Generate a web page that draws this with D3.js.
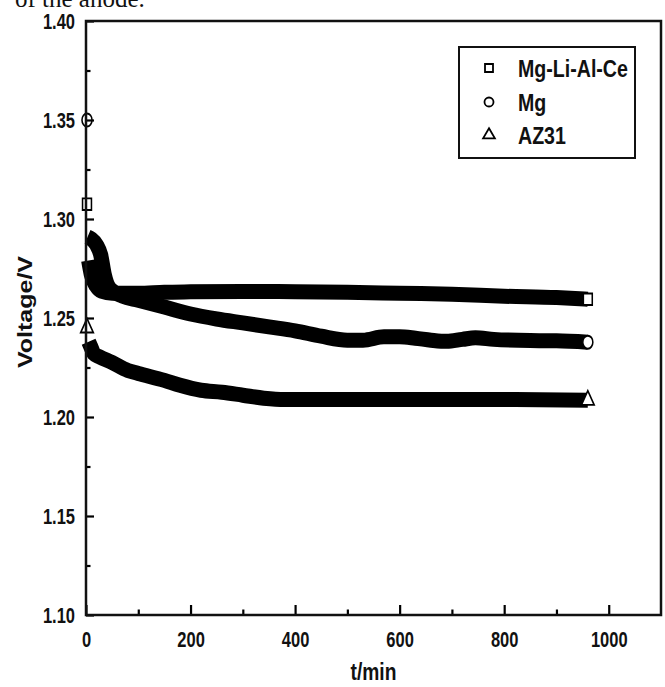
<!DOCTYPE html>
<html><head><meta charset="utf-8">
<script src="https://cdn.jsdelivr.net/npm/d3@7"></script>
<style>body{margin:0;background:#fff}svg{display:block}</style>
</head><body>
<script>
// ---- data ----
const seriesNames = ["Mg-Li-Al-Ce", "Mg", "AZ31"];
const tMgLiAlCe = [0, 5, 10, 20, 30, 50, 100, 150, 200, 300, 400, 500, 600, 700, 800, 900, 960];
const vMgLiAlCe = [1.3075, 1.279, 1.272, 1.266, 1.2635, 1.2625, 1.2625, 1.263, 1.2632, 1.2634, 1.2633, 1.263, 1.2625, 1.262, 1.261, 1.2603, 1.2595];
const tMg = [0, 3, 10, 20, 28, 35, 45, 70, 100, 150, 200, 250, 300, 350, 400, 450, 500, 530, 570, 600, 630, 660, 690, 720, 745, 780, 850, 900, 960];
const vMg = [1.35, 1.291, 1.290, 1.287, 1.282, 1.272, 1.265, 1.261, 1.259, 1.2555, 1.252, 1.2495, 1.2475, 1.2455, 1.2435, 1.2408, 1.2388, 1.2388, 1.2405, 1.2405, 1.2398, 1.2388, 1.2382, 1.2392, 1.2400, 1.2392, 1.2386, 1.2385, 1.2378];
const tAZ31 = [0, 5, 10, 15, 25, 50, 80, 100, 150, 180, 220, 260, 300, 340, 380, 450, 600, 800, 960];
const vAZ31 = [1.245, 1.238, 1.235, 1.232, 1.2305, 1.2275, 1.2235, 1.222, 1.2185, 1.216, 1.2135, 1.2125, 1.211, 1.2095, 1.2088, 1.2088, 1.2088, 1.2088, 1.2085];
const xMajorTicks = [0, 200, 400, 600, 800, 1000];
const xMinorTicks = [100, 300, 500, 700, 900];
const yMajorTicks = [1.10, 1.15, 1.20, 1.25, 1.30, 1.35, 1.40];
const yMinorTicks = [1.125, 1.175, 1.225, 1.275, 1.325, 1.375];
const xTitle = "t/min";
const yTitle = "Voltage/V";
const captionText = "of the anode.";

// ---- layout ----
const W = 665, H = 687;
const L = 86, R = 661, T = 21, B = 615;
const FONT = "'Liberation Sans', Arial, sans-serif";

const svg = d3.select("body").append("svg").attr("width", W).attr("height", H);

const x = d3.scaleLinear().domain([0, 1100]).range([L, R]);
const y = d3.scaleLinear().domain([1.10, 1.40]).range([B, T]);

// caption fragment at the very top (cut off, as in the reference)
svg.append("text").attr("x", 15).attr("y", 6.5)
  .attr("font-family", "'Liberation Serif', 'Times New Roman', serif")
  .attr("font-size", 25).attr("fill", "#111").text(captionText);

// ---- bands (dense overlapping markers) ----
const series = [
  {name: seriesNames[0], t: tMgLiAlCe, v: vMgLiAlCe, sym: d3.symbolSquare},
  {name: seriesNames[1], t: tMg, v: vMg, sym: d3.symbolCircle},
  {name: seriesNames[2], t: tAZ31, v: vAZ31, sym: d3.symbolTriangle}
];
const line = d3.line().x(d => x(d[0])).y(d => y(d[1])).curve(d3.curveMonotoneX);
const gData = svg.append("g");
series.forEach(s => {
  const pts = s.t.map((t, i) => [t, s.v[i]]);
  gData.append("path").datum(pts.slice(1))
    .attr("d", line).attr("fill", "none").attr("stroke", "#000")
    .attr("stroke-width", 15).attr("stroke-linecap", "butt").attr("stroke-linejoin", "round");
  // isolated first marker and last marker
  [pts[0], pts[pts.length - 1]].forEach((p, k) => {
    gData.append("path")
      .attr("d", d3.symbol().type(s.sym).size(s.sym === d3.symbolTriangle ? 95 : 110)())
      .attr("transform", `translate(${x(p[0]) + (k === 0 ? 1 : 0)},${y(p[1])}) scale(0.85,1.1)`)
      .attr("fill", "#fff").attr("stroke", "#000").attr("stroke-width", 1.8);
  });
});

// ---- axes ----
function styleAxis(g) {
  g.selectAll(".domain").remove();
  g.selectAll(".tick line").attr("stroke", "#000").attr("stroke-width", 2.2);
}
const gxMinor = svg.append("g").attr("transform", `translate(0,${B})`)
  .call(d3.axisBottom(x).tickValues(xMinorTicks).tickSize(-5.5).tickFormat(""));
styleAxis(gxMinor);
const gx = svg.append("g").attr("transform", `translate(0,${B})`)
  .call(d3.axisBottom(x).tickValues(xMajorTicks).tickSize(-10).tickFormat(d3.format("d")));
styleAxis(gx);
gx.selectAll(".tick text")
  .attr("y", 32.5).attr("dy", 0)
  .attr("transform", "scale(0.75,1)")
  .attr("font-family", FONT).attr("font-weight", "bold").attr("font-size", 22).attr("fill", "#111");

const gyMinor = svg.append("g").attr("transform", `translate(${L},0)`)
  .call(d3.axisLeft(y).tickValues(yMinorTicks).tickSize(-4.5).tickFormat(""));
styleAxis(gyMinor);
const gy = svg.append("g").attr("transform", `translate(${L},0)`)
  .call(d3.axisLeft(y).tickValues(yMajorTicks).tickSize(-8).tickFormat(d3.format(".2f")));
styleAxis(gy);
gy.selectAll(".tick text")
  .attr("x", -11 / 0.75).attr("dy", "0.36em")
  .attr("transform", "scale(0.75,1)")
  .attr("text-anchor", "end")
  .attr("font-family", FONT).attr("font-weight", "bold").attr("font-size", 22).attr("fill", "#111");

// frame
svg.append("rect").attr("x", L).attr("y", T).attr("width", R - L).attr("height", B - T)
  .attr("fill", "none").attr("stroke", "#111").attr("stroke-width", 2.5);

// axis titles
svg.append("text").attr("transform", `translate(${(L + R) / 2},680) scale(0.8,1)`)
  .attr("text-anchor", "middle").attr("font-family", FONT).attr("font-weight", "bold")
  .attr("font-size", 24).attr("fill", "#111").text(xTitle);
svg.append("text").attr("transform", `translate(32,${(T + B) / 2 - 6}) rotate(-90) scale(1,0.8)`)
  .attr("text-anchor", "middle").attr("font-family", FONT).attr("font-weight", "bold")
  .attr("font-size", 25).attr("fill", "#111").text(yTitle);

// ---- legend ----
const lg = svg.append("g");
lg.append("rect").attr("x", 459).attr("y", 47).attr("width", 176).attr("height", 111)
  .attr("fill", "#fff").attr("stroke", "#111").attr("stroke-width", 2);
const rowY = [68, 102, 135];
series.forEach((s, i) => {
  lg.append("path")
    .attr("d", d3.symbol().type(s.sym).size(s.sym === d3.symbolTriangle ? 60 : 64)())
    .attr("transform", `translate(489,${rowY[i]})`)
    .attr("fill", "#fff").attr("stroke", "#000").attr("stroke-width", 1.8);
  lg.append("text").attr("transform", `translate(518,${rowY[i] + 9}) scale(0.8,1)`)
    .attr("font-family", FONT).attr("font-weight", "bold").attr("font-size", 24.5)
    .attr("fill", "#111").text(s.name);
});
</script>
</body></html>
